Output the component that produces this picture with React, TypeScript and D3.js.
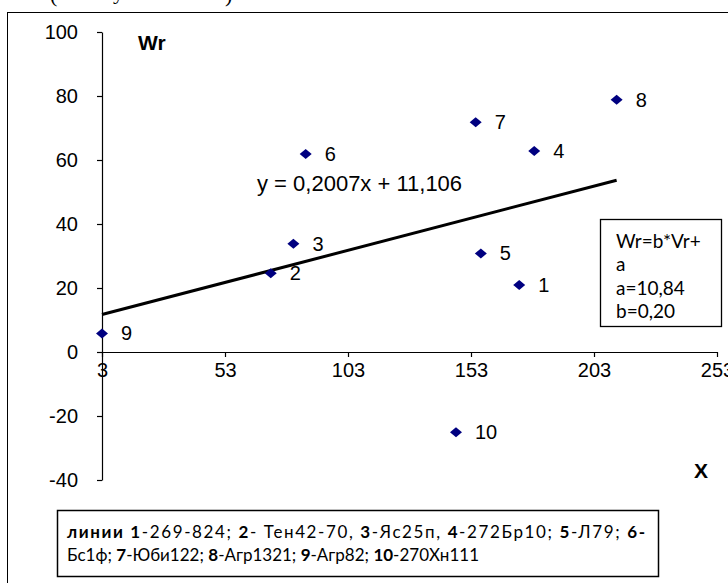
import { useEffect, useRef } from "react";
import * as d3 from "d3";

const W = 728;
const H = 583;

// lines 1..10, values
const LINE_IDS = ["1", "2", "3", "4", "5", "6", "7", "8", "9", "10"];
const X_VALUES = [172.6, 71.6, 80.8, 178.7, 157, 85.8, 154.9, 212.2, 3, 146.9];
const Y_VALUES = [20.9, 24.6, 33.8, 62.8, 30.8, 61.9, 71.8, 78.8, 5.8, -25.1];

const X_TICKS = [3, 53, 103, 153, 203, 253];
const Y_TICKS = [-40, -20, 0, 20, 40, 60, 80, 100];

const TREND_SLOPE = 0.2007;
const TREND_INTERCEPT = 11.106;
const TREND_LABEL = "y = 0,2007x + 11,106";

const STAT_LINES = ["Wr=b*Vr+", "a", "a=10,84", "b=0,20"];

// legend pieces per line: [text, bold]
const LEGEND_LINE1: [string, boolean][] = [
  ["линии ", true], ["1", true], ["-269-824; ", false], ["2", true], ["- Тен42-70, ", false],
  ["3", true], ["-Яс25п, ", false], ["4", true], ["-272Бр10; ", false], ["5", true],
  ["-Л79; ", false], ["6-", true],
];
const LEGEND_LINE2: [string, boolean][] = [
  ["Бс1ф; ", false], ["7", true], ["-Юби122; ", false], ["8", true], ["-Агр1321; ", false],
  ["9", true], ["-Агр82; ", false], ["10", true], ["-270Хн111", false],
];

const AXIS_FONT = "'Liberation Sans', Arial, sans-serif";
const BOX_FONT = "Lato, 'Open Sans', sans-serif";
const MARKER = "#000080";

export default function App() {
  const svgRef = useRef<SVGSVGElement>(null);

  useEffect(() => {
    const svg = d3.select(svgRef.current);
    svg.selectAll("*").remove();

    svg.append("rect").attr("width", W).attr("height", H).attr("fill", "#fff");

    // caption line of the page above, cut by the crop
    const cap = svg.append("g").attr("font-family", "'Liberation Serif', serif").attr("font-size", 22).attr("fill", "#000");
    cap.append("text").attr("x", 50).attr("y", 2).text("(");
    cap.append("text").attr("x", 113).attr("y", -1).text("у");
    cap.append("text").attr("x", 225).attr("y", 2).text(")");

    // chart frame
    svg.append("rect")
      .attr("x", 7.5).attr("y", 12.5)
      .attr("width", 760).attr("height", 620)
      .attr("fill", "#fff").attr("stroke", "#000").attr("stroke-width", 1);

    const x = d3.scaleLinear().domain([3, 253]).range([102, 717]);
    const y = d3.scaleLinear().domain([-40, 100]).range([480, 32]);

    const yAxis = svg.append("g")
      .attr("transform", `translate(${x(3)},0)`)
      .call(d3.axisLeft(y).tickValues(Y_TICKS).tickSize(5).tickSizeOuter(0).tickPadding(19).tickFormat((d) => String(d)));
    const xAxis = svg.append("g")
      .attr("transform", `translate(0,${y(0)})`)
      .call(d3.axisBottom(x).tickValues(X_TICKS).tickSize(5).tickSizeOuter(0).tickPadding(6).tickFormat((d) => String(d)));
    for (const ax of [yAxis, xAxis]) {
      ax.attr("font-family", AXIS_FONT).attr("font-size", 20);
      ax.selectAll("path, line").attr("stroke", "#000").attr("stroke-width", 1.2);
      ax.selectAll("text").attr("fill", "#000");
    }

    svg.append("text").attr("x", 138).attr("y", 50)
      .attr("font-family", AXIS_FONT).attr("font-size", 21).attr("font-weight", 700).text("Wr");
    svg.append("text").attr("x", 694).attr("y", 478)
      .attr("font-family", AXIS_FONT).attr("font-size", 21).attr("font-weight", 700).text("X");

    // trend line across the data range
    const [xmin, xmax] = d3.extent(X_VALUES) as [number, number];
    svg.append("line")
      .attr("x1", x(xmin)).attr("y1", y(TREND_SLOPE * xmin + TREND_INTERCEPT))
      .attr("x2", x(xmax)).attr("y2", y(TREND_SLOPE * xmax + TREND_INTERCEPT))
      .attr("stroke", "#000").attr("stroke-width", 3);

    svg.append("text").attr("x", 257).attr("y", 191)
      .attr("font-family", AXIS_FONT).attr("font-size", 22).text(TREND_LABEL);

    const pts = LINE_IDS.map((id, i) => ({ id, vx: X_VALUES[i], vy: Y_VALUES[i] }));
    // flat diamond, ~12 wide, 10 tall
    const diamond = "M-6,0L0,-5L6,0L0,5Z";
    svg.append("g").selectAll("path").data(pts).join("path")
      .attr("transform", (d) => `translate(${x(d.vx)},${y(d.vy)})`)
      .attr("d", diamond)
      .attr("fill", MARKER);
    svg.append("g").selectAll("text").data(pts).join("text")
      .attr("x", (d) => x(d.vx) + 19)
      .attr("y", (d) => y(d.vy) + 7)
      .attr("font-family", AXIS_FONT).attr("font-size", 20).attr("fill", "#000")
      .text((d) => d.id);

    // regression note box
    svg.append("rect").attr("x", 600.5).attr("y", 219.5).attr("width", 121).attr("height", 107)
      .attr("fill", "#fff").attr("stroke", "#000").attr("stroke-width", 1.3);
    svg.append("g").selectAll("text").data(STAT_LINES).join("text")
      .attr("x", 616).attr("y", (_, i) => 248 + i * 23.3)
      .attr("font-family", BOX_FONT).attr("font-size", 19).attr("fill", "#000")
      .text((d) => d);

    // legend box
    svg.append("rect").attr("x", 57.5).attr("y", 510.5).attr("width", 601).attr("height", 66)
      .attr("fill", "#fff").attr("stroke", "#000").attr("stroke-width", 1.5);
    [LEGEND_LINE1, LEGEND_LINE2].forEach((parts, li) => {
      const t = svg.append("text").attr("x", 67).attr("y", 538 + li * 23)
        .attr("font-family", BOX_FONT).attr("font-size", 17).attr("fill", "#000");
      parts.forEach(([s, bold]) => {
        t.append("tspan").attr("font-weight", bold ? 700 : 400).text(s);
      });
      if (li === 0) t.attr("textLength", 578).attr("lengthAdjust", "spacing");
    });
  }, []);

  return (
    <svg
      ref={svgRef}
      width={W}
      height={H}
      style={{ position: "absolute", left: 0, top: 0, display: "block" }}
    />
  );
}
